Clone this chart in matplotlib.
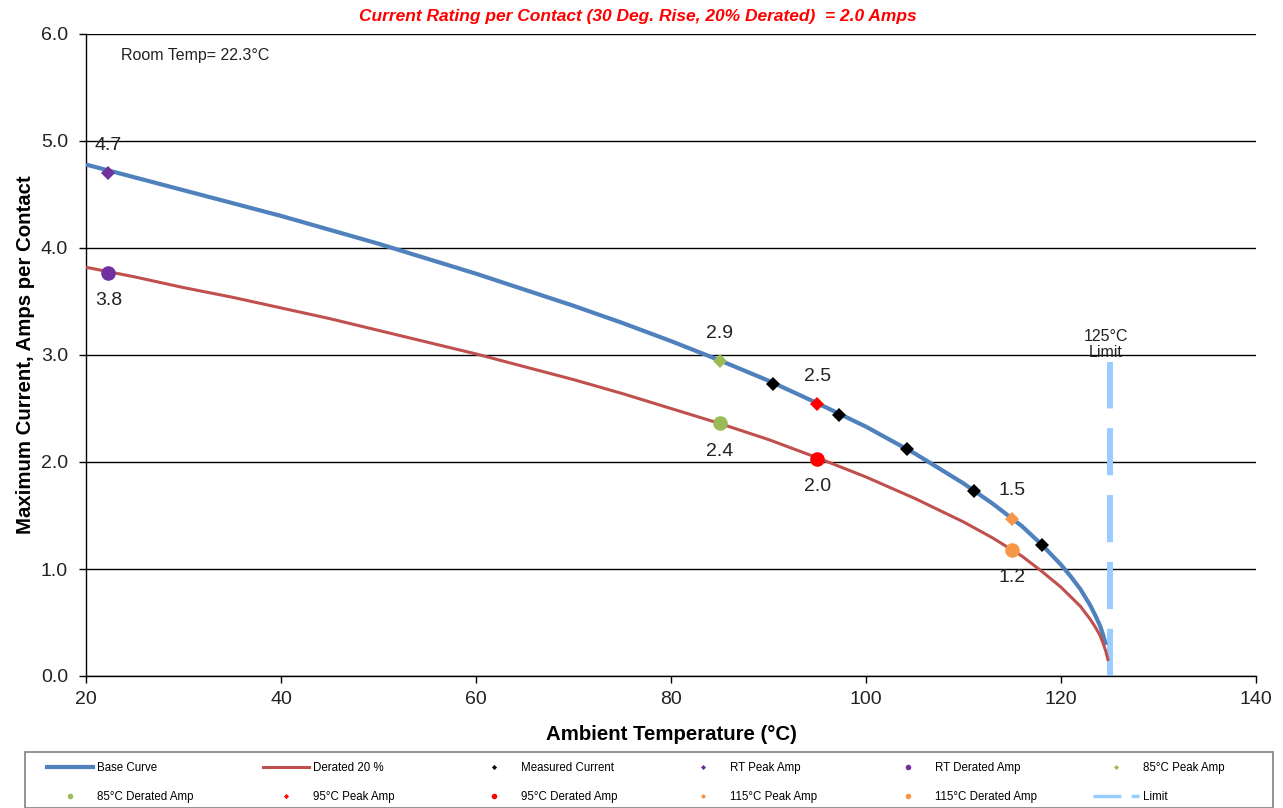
import matplotlib
matplotlib.use("Agg")
import matplotlib.pyplot as plt
from matplotlib.patches import Rectangle
from matplotlib.lines import Line2D

plt.rcParams['font.family'] = ['Liberation Sans', 'DejaVu Sans']

# base current curve (amps vs ambient temp)
base_temp = [20, 25, 30, 35, 40, 45, 50, 55, 60, 65, 70, 75, 80, 85, 90, 95, 100, 105,
             110, 113, 116, 118, 120, 121, 122, 123, 123.5, 124, 124.3, 124.6]
base_amps = [4.78, 4.66, 4.54, 4.42, 4.30, 4.17, 4.04, 3.90, 3.76, 3.61, 3.46, 3.30, 3.13, 2.95,
             2.76, 2.55, 2.33, 2.08, 1.80, 1.61, 1.40, 1.23, 1.04, 0.93, 0.81, 0.66, 0.57, 0.47,
             0.39, 0.29]

# 20% derated curve
derated_temp = [20, 25, 30, 35, 40, 45, 50, 55, 60, 65, 70, 75, 80, 85, 90, 95, 100, 105,
                110, 113, 116, 118, 120, 121, 122, 123, 123.5, 124, 124.3, 124.6, 124.85]
derated_amps = [3.82, 3.73, 3.63, 3.54, 3.44, 3.34, 3.23, 3.12, 3.01, 2.89, 2.77, 2.64, 2.50, 2.36,
                2.21, 2.04, 1.86, 1.66, 1.44, 1.29, 1.12, 0.98, 0.83, 0.74, 0.65, 0.53, 0.46, 0.38,
                0.31, 0.23, 0.14]

meas_temp = [90.5, 97.2, 104.2, 111.1, 118.0]
meas_amps = [2.73, 2.44, 2.12, 1.73, 1.22]

# labelled test points: peak and derated amps at each temp
pt_names = ['RT', '85°C', '95°C', '115°C']
pt_temp = [22.3, 85, 95, 115]
pt_peak = [4.70, 2.94, 2.54, 1.47]
pt_derated = [3.77, 2.36, 2.03, 1.18]
pt_colors = ['#7030A0', '#9BBB59', '#FF0000', '#F79646']

limit_temp = [125, 125]
limit_amps = [0, 2.93]

BLUE = '#4F81BD'
RED = '#C0504D'
LIMIT = '#99CCFF'

fig = plt.figure(figsize=(12.83, 8.08), dpi=100)
W, H = 1283, 808
ax = fig.add_axes([86 / W, 1 - 676 / H, (1256 - 86) / W, (676 - 34) / H])

ax.plot(base_temp, base_amps, color=BLUE, lw=3.0, solid_capstyle='butt', zorder=3)
ax.plot(derated_temp, derated_amps, color=RED, lw=2.2, solid_capstyle='butt', zorder=3)
ax.plot(limit_temp, limit_amps, color=LIMIT, lw=4.3, dashes=(7.9, 3.3),
        dash_capstyle='butt', zorder=2)
ax.plot(meas_temp, meas_amps, 'D', color='black', ms=7, mew=0, zorder=5)

for name, t, pk, dr, c in zip(pt_names, pt_temp, pt_peak, pt_derated, pt_colors):
    ax.plot(t, pk, 'D', color=c, ms=7, mew=0, zorder=5)
    ax.plot(t, dr, 'o', color=c, ms=10.5, mew=0, zorder=5)
    ax.annotate(f"{pk:.1f}", (t, pk), xytext=(0, 20), textcoords='offset points',
                ha='center', va='center', fontsize=14, color='#222222')
    ax.annotate(f"{dr:.1f}", (t, dr), xytext=(0, -20), textcoords='offset points',
                ha='center', va='center', fontsize=14, color='#222222')

ax.text(124.6, 2.95, "125°C\nLimit", ha='center', va='bottom', fontsize=11.5,
        linespacing=1.15, color='#222222')
ax.text(23.6, 5.8, "Room Temp= 22.3°C", ha='left', va='center', fontsize=11.5,
        color='#222222')

ax.set_xlim(20, 140)
ax.set_ylim(0, 6)
ax.set_xticks(range(20, 141, 20))
ax.set_yticks([0, 1, 2, 3, 4, 5, 6])
ax.set_yticklabels([f"{v:.1f}" for v in range(7)])
ax.tick_params(direction='out', length=5, width=1, labelsize=14, labelcolor='#222222')
ax.tick_params(axis='y', pad=8)
ax.tick_params(axis='x', pad=6)
for s in ['top', 'right']:
    ax.spines[s].set_visible(False)
for s in ['left', 'bottom']:
    ax.spines[s].set_linewidth(1)
ax.yaxis.grid(True, color='black', lw=1)
ax.set_axisbelow(True)

ax.set_xlabel("Ambient Temperature (°C)", fontsize=14.7, fontweight='bold', labelpad=12)
ax.set_ylabel("Maximum Current, Amps per Contact", fontsize=14.7, fontweight='bold', labelpad=4)

fig.text(637.5 / W, 1 - 17 / H,
         "Current Rating per Contact (30 Deg. Rise, 20% Derated)  = 2.0 Amps",
         ha='center', va='center', color='#FF0000', fontsize=12.5, fontweight='bold',
         fontstyle='italic')

# legend: six evenly spaced columns inside one frame
line_h = lambda c, lw, **kw: Line2D([], [], color=c, lw=lw, **kw)
mark_h = lambda c, m, ms: Line2D([], [], color=c, marker=m, ms=ms, mew=0, ls='none')
entries = [
    (line_h(BLUE, 3.0), 'Base Curve'),
    (line_h(RED, 2.2), 'Derated 20 %'),
    (mark_h('black', 'D', 2.6), 'Measured Current'),
    (mark_h(pt_colors[0], 'D', 2.6), 'RT Peak Amp'),
    (mark_h(pt_colors[0], 'o', 4), 'RT Derated Amp'),
    (mark_h(pt_colors[1], 'D', 2.6), '85°C Peak Amp'),
    (mark_h(pt_colors[1], 'o', 4), '85°C Derated Amp'),
    (mark_h(pt_colors[2], 'D', 2.6), '95°C Peak Amp'),
    (mark_h(pt_colors[2], 'o', 4), '95°C Derated Amp'),
    (mark_h(pt_colors[3], 'D', 2.6), '115°C Peak Amp'),
    (mark_h(pt_colors[3], 'o', 4), '115°C Derated Amp'),
    (line_h(LIMIT, 2.5, dashes=(8, 3)), 'Limit'),
]
col_x = [47, 263, 471, 680, 885, 1093]
for i, x in enumerate(col_x):
    pair = [entries[i], entries[i + 6]]
    fig.legend([p[0] for p in pair], [p[1] for p in pair], loc='upper left',
               bbox_to_anchor=(x / W, 1 - 762 / H), bbox_transform=fig.transFigure,
               frameon=False, fontsize=8.3, handlelength=4.0, handletextpad=0.35,
               labelspacing=1.5, borderpad=0, borderaxespad=0)
fig.patches.append(Rectangle((25 / W, 0), 1248 / W, (808 - 752) / H,
                             transform=fig.transFigure, fill=False,
                             edgecolor='#808080', lw=1.2))

fig.savefig('out.png', dpi=100)
